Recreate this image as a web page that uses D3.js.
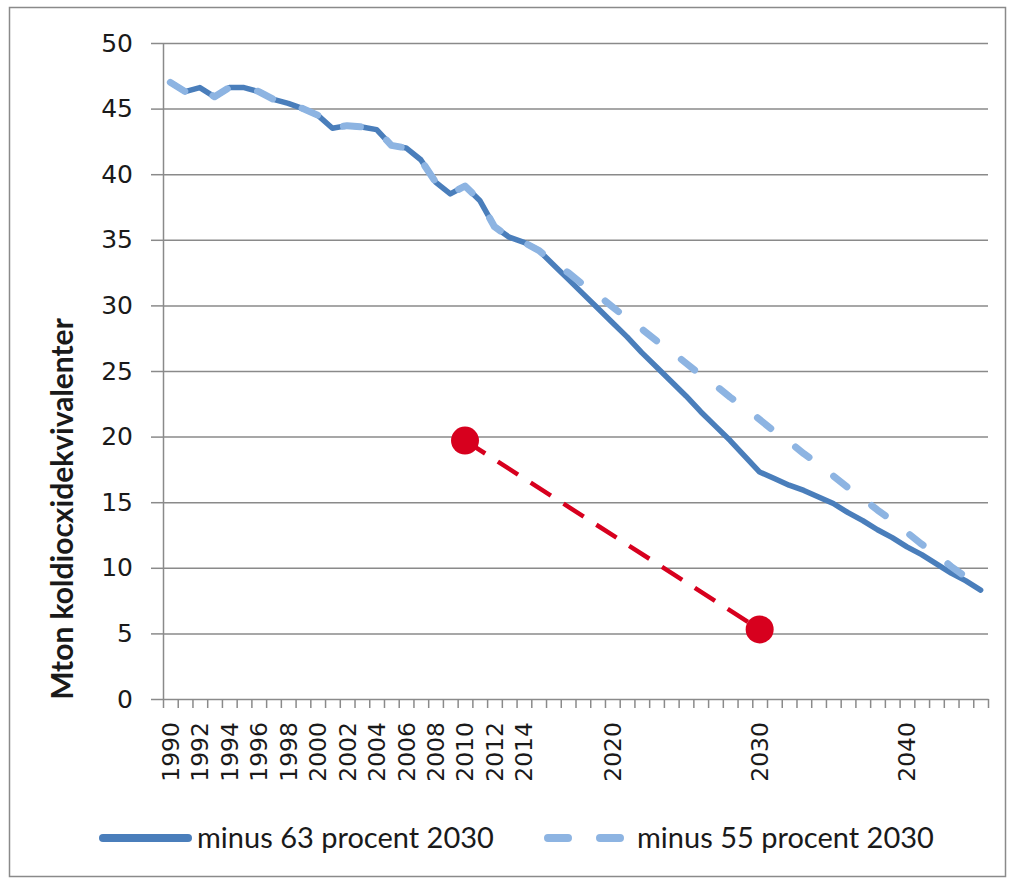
<!DOCTYPE html>
<html>
<head>
<meta charset="utf-8">
<script src="https://cdn.jsdelivr.net/npm/d3@7"></script>
<style>
  html, body { margin: 0; padding: 0; background: #fff; }
  svg { display: block; }
</style>
</head>
<body>
<svg id="chart" width="1013" height="882"></svg>
<script>
// Categories (years) and tick labels
const years = d3.range(1990, 2046);
const xLabels = [1990, 1992, 1994, 1996, 1998, 2000, 2002, 2004, 2006, 2008, 2010, 2012, 2014, 2020, 2030, 2040];
const yTicks = [0, 5, 10, 15, 20, 25, 30, 35, 40, 45, 50];

// Series values, Mton
const minus63 = [
  47.0, 46.3, 46.6, 45.9, 46.6, 46.6, 46.3, 45.7, 45.4, 45.0,
  44.5, 43.5, 43.7, 43.6, 43.4, 42.2, 42.0, 41.1, 39.4, 38.5,
  39.1, 38.0, 36.0, 35.2, 34.8, 34.2, 33.1, 32.0, 30.9, 29.8,
  28.7, 27.6, 26.4, 25.3, 24.2, 23.1, 21.9, 20.8, 19.7, 18.5,
  17.3, 16.8, 16.3, 15.9, 15.4, 14.9, 14.2, 13.6, 12.9, 12.3,
  11.6, 11.0, 10.3, 9.6, 9.0, 8.3
];
const minus55 = [
  47.0, 46.3, 46.6, 45.9, 46.6, 46.6, 46.3, 45.7, 45.4, 45.0,
  44.5, 43.5, 43.7, 43.6, 43.4, 42.2, 42.0, 41.1, 39.4, 38.5,
  39.1, 38.0, 36.0, 35.2, 34.8, 34.2, 33.3, 32.5, 31.6, 30.8,
  29.9, 29.0, 28.2, 27.3, 26.5, 25.6, 24.7, 23.9, 23.0, 22.2,
  21.3, 20.4, 19.6, 18.7, 17.9, 17.0, 16.1, 15.3, 14.4, 13.6,
  12.7, 11.8, 11.0, 10.1, 9.3, 8.4
];
const targetYears = [2010, 2030];
const targetValues = [19.7, 5.3];

const seriesNames = ['minus 63 procent 2030', 'minus 55 procent 2030'];

const darkBlue = '#4a7ebb';
const lightBlue = '#8db4e2';
const red = '#d7001e';
const gridColor = '#8a8a8a';

const svg = d3.select('#chart');

// chart area border
svg.append('rect')
    .attr('x', 9.5).attr('y', 7.5)
    .attr('width', 996).attr('height', 869)
    .attr('fill', 'none')
    .attr('stroke', gridColor)
    .attr('stroke-width', 1.5);

const plotLeft = 163, plotRight = 988, plotTop = 43, plotBottom = 699;

const x = d3.scaleBand().domain(years).range([plotLeft, plotRight]).padding(0);
const xc = d => x(d) + x.bandwidth() / 2;
const y = d3.scaleLinear().domain([0, 50]).range([plotBottom, plotTop]);

// gridlines
svg.append('g')
    .attr('transform', `translate(${plotLeft},0)`)
    .call(d3.axisLeft(y).tickValues(yTicks.filter(d => d > 0)).tickSize(-(plotRight - plotLeft)).tickFormat(''))
    .call(g => g.select('.domain').remove())
    .call(g => g.selectAll('line').attr('stroke', gridColor).attr('stroke-width', 1.5));

// y axis
svg.append('g')
    .attr('transform', `translate(${plotLeft},0)`)
    .call(d3.axisLeft(y).tickValues(yTicks).tickSize(12).tickSizeOuter(0).tickPadding(18))
    .call(g => g.select('.domain').attr('stroke', gridColor).attr('stroke-width', 1.5))
    .call(g => g.selectAll('line').attr('stroke', gridColor).attr('stroke-width', 1.5))
    .call(g => g.selectAll('text')
        .attr('font-family', 'DejaVu Sans')
        .attr('font-size', 25)
        .attr('fill', '#1a1a1a'));

// x axis: ticks between categories
const xb = d3.scaleLinear().domain([0, years.length]).range([plotLeft, plotRight]);
svg.append('g')
    .attr('transform', `translate(0,${plotBottom})`)
    .call(d3.axisBottom(xb).tickValues(d3.range(years.length + 1)).tickSize(9).tickSizeOuter(0).tickFormat(''))
    .call(g => g.select('.domain').attr('stroke', gridColor).attr('stroke-width', 1.5))
    .call(g => g.selectAll('line').attr('stroke', gridColor).attr('stroke-width', 1.5));

svg.append('g').selectAll('text')
    .data(xLabels)
    .join('text')
    .attr('transform', d => `translate(${xc(d)},722) rotate(-90)`)
    .attr('text-anchor', 'end')
    .attr('dy', '0.36em')
    .attr('font-family', 'DejaVu Sans')
    .attr('font-size', 23.5)
    .attr('fill', '#1a1a1a')
    .text(d => d);

// y axis title
svg.append('text')
    .attr('transform', 'translate(73,509) rotate(-90)')
    .attr('text-anchor', 'middle')
    .attr('font-family', 'Lato')
    .attr('font-weight', 'bold')
    .attr('font-size', 30)
    .attr('fill', '#1a1a1a')
    .text('Mton koldiocxidekvivalenter');

// lines
const line = d3.line()
    .x((d, i) => xc(years[i]))
    .y(d => y(d));

svg.append('path')
    .datum(minus63)
    .attr('d', line)
    .attr('fill', 'none')
    .attr('stroke', darkBlue)
    .attr('stroke-width', 5.5)
    .attr('stroke-linejoin', 'round')
    .attr('stroke-linecap', 'round');

svg.append('path')
    .datum(minus55)
    .attr('d', line)
    .attr('fill', 'none')
    .attr('stroke', lightBlue)
    .attr('stroke-width', 7)
    .attr('stroke-linejoin', 'round')
    .attr('stroke-linecap', 'round')
    .attr('stroke-dasharray', '17,31');

// reduction target, red dashed line and dots
const targets = targetYears.map((yr, i) => ({ yr, v: targetValues[i] }));
svg.append('path')
    .datum(targets)
    .attr('d', d3.line().x(d => xc(d.yr)).y(d => y(d.v)))
    .attr('fill', 'none')
    .attr('stroke', red)
    .attr('stroke-width', 4.5)
    .attr('stroke-dasharray', '24,15');

svg.append('g').selectAll('circle')
    .data(targets)
    .join('circle')
    .attr('cx', d => xc(d.yr))
    .attr('cy', d => y(d.v))
    .attr('r', 14)
    .attr('fill', red);

// legend
const legend = svg.append('g').attr('font-family', 'Lato').attr('font-size', 29).attr('fill', '#1a1a1a');
legend.append('line')
    .attr('x1', 103).attr('x2', 188).attr('y1', 838).attr('y2', 838)
    .attr('stroke', darkBlue).attr('stroke-width', 8).attr('stroke-linecap', 'round');
legend.append('text').attr('x', 197).attr('y', 848).text(seriesNames[0]);
legend.append('line')
    .attr('x1', 548).attr('x2', 620).attr('y1', 838).attr('y2', 838)
    .attr('stroke', lightBlue).attr('stroke-width', 8).attr('stroke-linecap', 'round')
    .attr('stroke-dasharray', '20,32');
legend.append('text').attr('x', 637).attr('y', 848).text(seriesNames[1]);
</script>
</body>
</html>
